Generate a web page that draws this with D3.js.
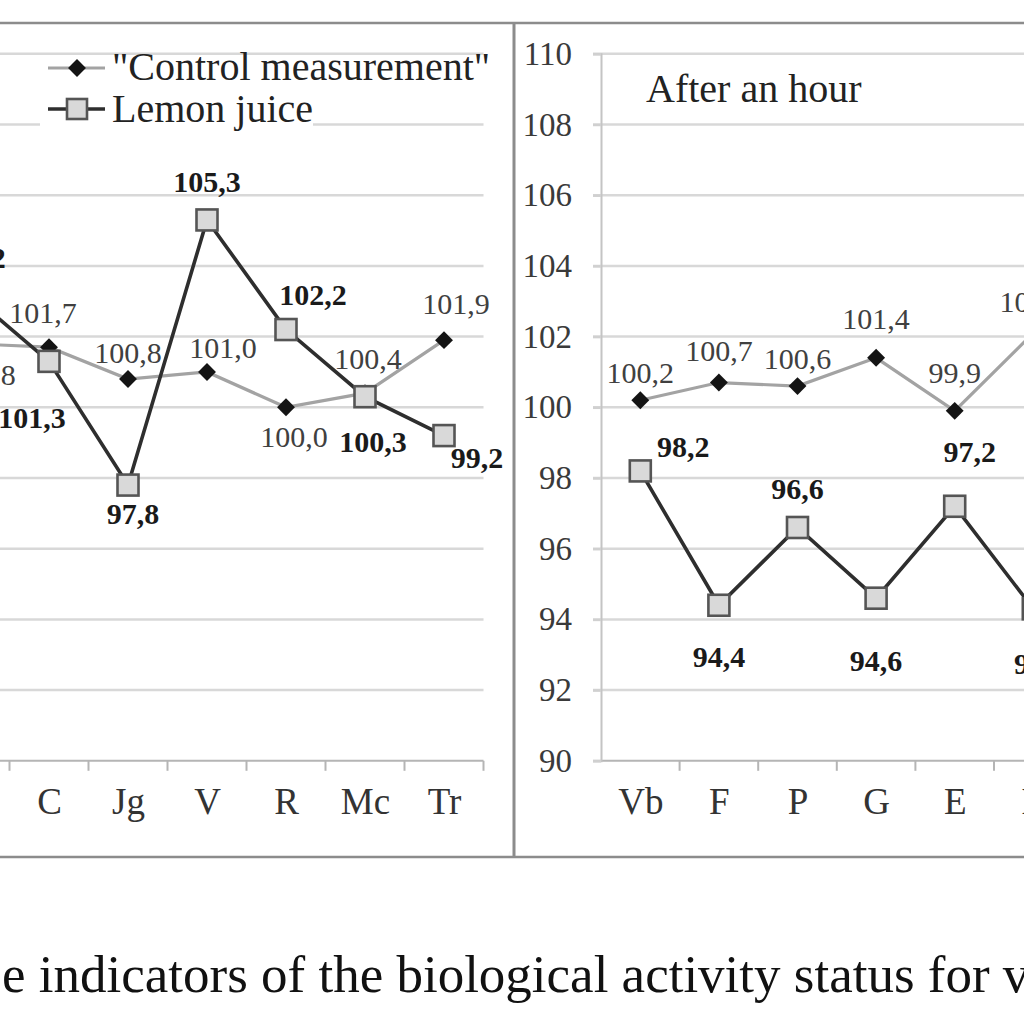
<!DOCTYPE html>
<html><head><meta charset="utf-8">
<script src="https://cdn.jsdelivr.net/npm/d3@7"></script>
<style>html,body{margin:0;padding:0;background:#fff;overflow:hidden} svg{display:block}</style>
</head><body>
<script>
// ---------------- DATA ----------------
const categories = ["Vb","F","P","G","E","B","C","Jg","V","R","Mc","Tr"];
const yTicks = [90,92,94,96,98,100,102,104,106,108,110];
const seriesNames = ['"Control measurement"', "Lemon juice"];
const panelTitle = "After an hour";
const caption = "e indicators of the biological activity status for v";

// first panel (visible part)
const immCats = ["B","C","Jg","V","R","Mc","Tr"];
const immControl = [101.8,101.7,100.8,101.0,100.0,100.4,101.9];
const immLemon   = [103.2,101.3,97.8,105.3,102.2,100.3,99.2];

// second panel "After an hour" (visible part)
const hourCats = ["Vb","F","P","G","E","B"];
const hourControl = [100.2,100.7,100.6,101.4,99.9,102.1];
const hourLemon   = [98.2,94.4,96.6,94.6,97.2,94.3];

// ---------------- LAYOUT (label offsets relative to their point) ----------------
const offImmControl = [[12,31],[-6,-35],[0,-27],[16,-24],[8,29],[3,-35],[12,-37]];
const offImmLemon   = [[2,-37],[-17,56],[5,28],[0,-38],[27,-35],[8,45],[33,22]];
const offHourControl= [[0,-28],[0,-32],[0,-28],[0,-39],[0,-38],[0,-32]];
const offHourLemon  = [[43,-24],[0,51],[0,-39],[0,62],[15,-55],[7,55]];

const fmt = v => d3.format(".1f")(v).replace(".", ",");
const SERIF = "'Liberation Serif','Times New Roman',serif";

const svg = d3.select("body").append("svg").attr("width",1024).attr("height",1024)
  .style("font-family", SERIF);

const y = d3.scaleLinear().domain([90,110]).range([760.8,53.8]);

function panel(g, x, x0, x1, cats, ctrl, lemon, offC, offL, showYAxis){
  const step = x.step();
  // gridlines
  g.append("g").selectAll("line").data(yTicks.filter(t=>t>90)).join("line")
    .attr("x1", showYAxis ? x0-8 : x0).attr("x2", x1)
    .attr("y1", d=>y(d)).attr("y2", d=>y(d))
    .attr("stroke","#d8d8d8").attr("stroke-width",2.5);
  // x axis (only categories that reach into the visible page)
  const visibleCats = categories.filter(c => x(c) > -10);
  const xa = g.append("g").attr("transform",`translate(0,${y(90)})`)
    .call(d3.axisBottom(x).tickValues(visibleCats).tickSize(0).tickPadding(27));
  xa.select(".domain").remove();
  xa.selectAll("text").attr("font-size",37).attr("fill","#333").style("font-family",SERIF);
  g.append("line").attr("x1", showYAxis ? x0-8 : x0).attr("x2",x1)
    .attr("y1",y(90)).attr("y2",y(90)).attr("stroke","#b5b5b5").attr("stroke-width",2);
  g.append("g").selectAll("line").data(categories).join("line")
    .attr("x1",d=>x(d)+step/2).attr("x2",d=>x(d)+step/2)
    .attr("y1",y(90)).attr("y2",y(90)+10).attr("stroke","#b5b5b5").attr("stroke-width",2);
  if(showYAxis){
    const ya = g.append("g").attr("transform",`translate(${x0},0)`)
      .call(d3.axisLeft(y).tickValues(yTicks).tickSize(8).tickPadding(21));
    ya.select(".domain").attr("stroke","#c4c4c4").attr("stroke-width",2);
    ya.selectAll(".tick line").attr("stroke","#d0d0d0").attr("stroke-width",2.5);
    ya.selectAll("text").attr("font-size",33).attr("fill","#3a3a3a").style("font-family",SERIF);
  }
  const cData = cats.map((c,i)=>({c, v:ctrl[i], o:offC[i]}));
  const lData = cats.map((c,i)=>({c, v:lemon[i], o:offL[i]}));
  const line = d3.line().x(d=>x(d.c)).y(d=>y(d.v));
  g.append("path").datum(cData).attr("d",line).attr("fill","none")
    .attr("stroke","#a3a3a3").attr("stroke-width",3.2);
  g.append("path").datum(lData).attr("d",line).attr("fill","none")
    .attr("stroke","#2e2e2e").attr("stroke-width",3.6);
  g.append("g").selectAll("path").data(cData).join("path")
    .attr("d", d3.symbol(d3.symbolSquare, 160)())
    .attr("transform", d=>`translate(${x(d.c)},${y(d.v)}) rotate(45)`)
    .attr("fill","#141414");
  g.append("g").selectAll("rect").data(lData).join("rect")
    .attr("x",d=>x(d.c)-10.5).attr("y",d=>y(d.v)-10.5).attr("width",21).attr("height",21)
    .attr("fill","#d9d9d9").attr("stroke","#555").attr("stroke-width",2.6);
  g.append("g").selectAll("text").data(cData).join("text")
    .attr("x",d=>x(d.c)+d.o[0]).attr("y",d=>y(d.v)+d.o[1]).attr("dy","0.35em")
    .attr("text-anchor","middle").attr("font-size",30).attr("fill","#404040")
    .text(d=>fmt(d.v));
  g.append("g").selectAll("text").data(lData).join("text")
    .attr("x",d=>x(d.c)+d.o[0]).attr("y",d=>y(d.v)+d.o[1]).attr("dy","0.35em")
    .attr("text-anchor","middle").attr("font-size",30).attr("font-weight","bold").attr("fill","#1a1a1a")
    .text(d=>fmt(d.v));
}

// left panel - extends off the left edge of the page
const lx0 = -464.5, lStep = 79;
const xLeft = d3.scalePoint().domain(categories).range([lx0, lx0+12*lStep]).padding(0.5);
const gL = svg.append("g");
panel(gL, xLeft, lx0, lx0+12*lStep, immCats, immControl, immLemon, offImmControl, offImmLemon, false);

// legend
const lg = svg.append("g");
lg.append("rect").attr("x",40).attr("y",92).attr("width",273).attr("height",38).attr("fill","#fff");
lg.append("line").attr("x1",48).attr("x2",105).attr("y1",68).attr("y2",68).attr("stroke","#a3a3a3").attr("stroke-width",3.2);
lg.append("path").attr("d",d3.symbol(d3.symbolSquare,160)()).attr("transform","translate(77,68) rotate(45)").attr("fill","#141414");
lg.append("line").attr("x1",48).attr("x2",105).attr("y1",109).attr("y2",109).attr("stroke","#2e2e2e").attr("stroke-width",3.6);
lg.append("rect").attr("x",67).attr("y",99).attr("width",20).attr("height",20).attr("fill","#d9d9d9").attr("stroke","#555").attr("stroke-width",2.6);
lg.append("text").attr("x",112).attr("y",80).attr("font-size",40).attr("fill","#222").text(seriesNames[0]);
lg.append("text").attr("x",112).attr("y",122).attr("font-size",40).attr("fill","#222").text(seriesNames[1]);

// right panel
const rx0 = 601, rStep = 78.6;
const xRight = d3.scalePoint().domain(categories).range([rx0, rx0+12*rStep]).padding(0.5);
const gR = svg.append("g");
panel(gR, xRight, rx0, rx0+12*rStep, hourCats, hourControl, hourLemon, offHourControl, offHourLemon, true);
svg.append("text").attr("x",646).attr("y",102).attr("font-size",40).attr("fill","#222").text(panelTitle);

// frames
svg.append("line").attr("x1",0).attr("x2",1024).attr("y1",23).attr("y2",23).attr("stroke","#8c8c8c").attr("stroke-width",2.5);
svg.append("line").attr("x1",0).attr("x2",1024).attr("y1",857).attr("y2",857).attr("stroke","#8c8c8c").attr("stroke-width",2.5);
svg.append("line").attr("x1",514).attr("x2",514).attr("y1",23).attr("y2",857).attr("stroke","#8c8c8c").attr("stroke-width",3);

// caption
svg.append("text").attr("x",2).attr("y",992).attr("font-size",53).attr("fill","#111").text(caption);
</script>
</body></html>
